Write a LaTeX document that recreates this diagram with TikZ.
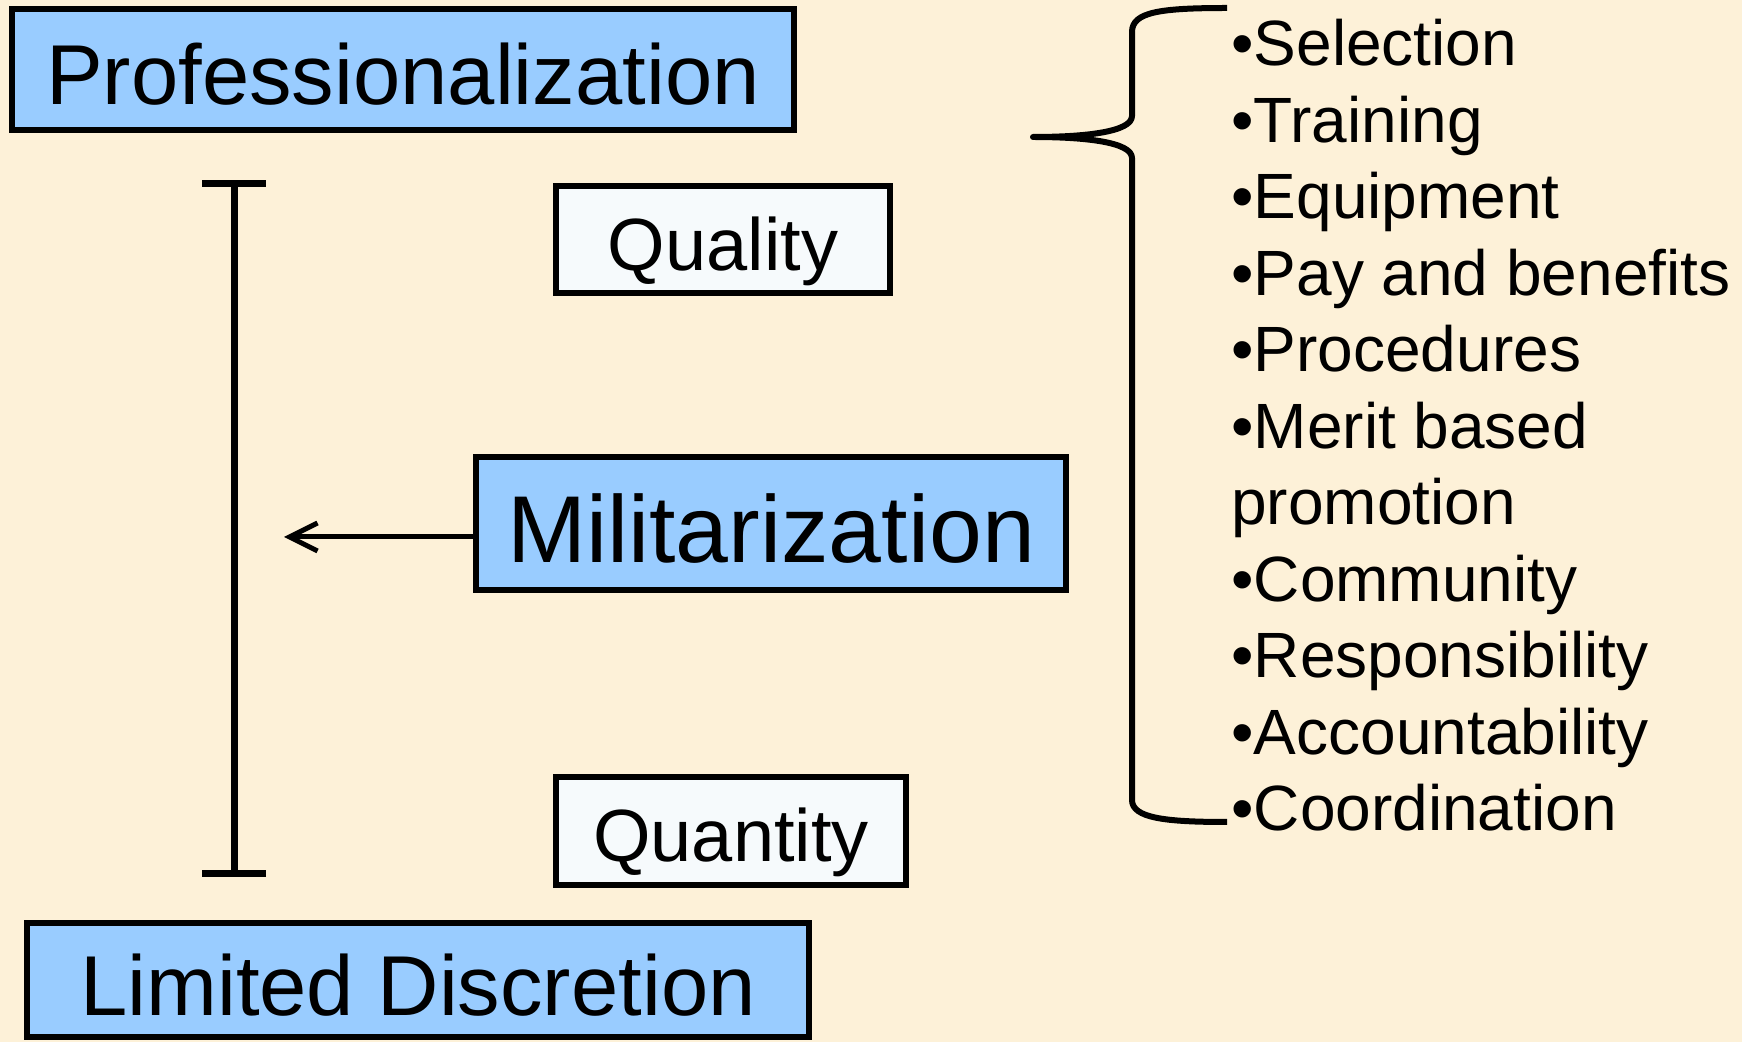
\documentclass[tikz,border=0pt]{standalone}
\usepackage{fontspec}
\setmainfont{Liberation Sans}
\usetikzlibrary{arrows.meta,positioning,calc}
\definecolor{parchment}{RGB}{253,241,216}
\definecolor{skyfill}{RGB}{153,204,255}
\definecolor{palefill}{RGB}{246,250,252}
\tikzset{
  headbox/.style={draw=black,line width=3pt,fill=skyfill,inner sep=0pt},
  termbox/.style={headbox,fill=palefill},
  midtext/.style={font=\fontsize{37pt}{44pt}\selectfont,text height=35.2pt,text depth=4.6pt},
  bigtext/.style={font=\fontsize{42.5pt}{50pt}\selectfont,text height=40.4pt,text depth=5.3pt},
  hugetext/.style={font=\fontsize{47.5pt}{56pt}\selectfont,text height=45.1pt,text depth=5.9pt},
  listitem/.style={anchor=base west,inner sep=0pt,font=\fontsize{32pt}{38pt}\selectfont},
  scalebar/.style={line width=3.5pt,{Bar[width=32pt]}-{Bar[width=32pt]}},
  pointer/.style={line width=2.5pt,-{Straight Barb[length=14pt,width=14pt]}},
  brace/.style={line width=3pt,line join=round}
}

\begin{document}
\begin{tikzpicture}[x=0.5pt,y=-0.5pt]
\fill[parchment] (0,0) rectangle (1742,1042);
\useasboundingbox (0,0) rectangle (1742,1042);
% left column: the two ends of the scale
\node[headbox,bigtext,minimum width=391pt,minimum height=60.5pt] (prof) at (403,69.5) {Professionalization};
\node[headbox,bigtext,minimum width=391pt,minimum height=57pt] (limited) at (418,980) {Limited Discretion};
% middle column
\node[termbox,midtext,minimum width=167pt,minimum height=53.5pt] (quality) at (723,239.5) {Quality};
\node[headbox,hugetext,minimum width=295pt,minimum height=66.5pt] (milit) at (771,523.5) {Militarization};
\node[termbox,midtext,minimum width=175pt,minimum height=54pt] (quantity) at (731,831) {Quantity};
% scale bar and pointer
\coordinate (bartop) at (234,180);
\coordinate (barbot) at (234,877);
\draw[scalebar] (bartop) -- (barbot);
\coordinate (armtip) at (284,537);
\draw[pointer] (milit.west |- armtip) -- (armtip);
% brace and list of factors
\coordinate (bracetip) at (1033,137);
\draw[brace] (1227,8) .. controls (1160,8) and (1132,12) .. (1132,32) -- (1132,116)
  .. controls (1132,132) and (1085,137) .. (bracetip)
  .. controls (1085,137) and (1132,142) .. (1132,158) -- (1132,800)
  .. controls (1132,818) and (1165,822) .. (1227,822);
\foreach \txt [count=\i from 0] in {•Selection,•Training,•Equipment,•Pay and benefits,•Procedures,•Merit based,promotion,•Community,•Responsibility,•Accountability,•Coordination}
  \node[listitem] (item\i) at (1231,{66+76.5*\i}) {\txt};
\end{tikzpicture}
\end{document}
